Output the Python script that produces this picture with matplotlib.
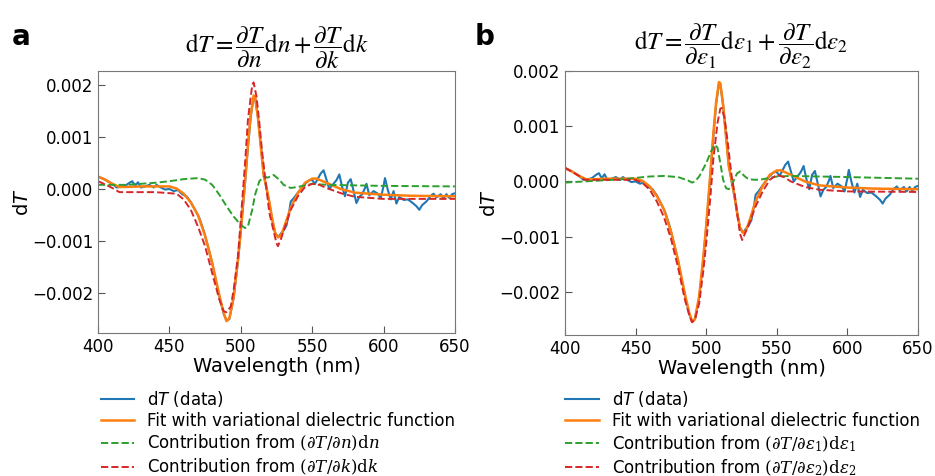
import matplotlib.pyplot as plt

# dados (comprimento de onda em nm, dT adimensional)
wl_data = [400, 405, 410, 413, 416, 419, 422, 424, 426, 428, 430, 433, 436, 439, 441, 444, 447, 450,
           453, 456, 459, 462, 465, 468, 471, 474, 477, 480, 483, 486, 488, 490, 492, 495, 498, 500,
           503, 505, 507, 509, 510, 512, 514, 516, 518, 520, 522, 524, 526, 527, 528, 530, 532, 534,
           535, 537, 540, 543, 545, 548, 550, 552, 554, 556, 558, 560, 562, 564, 567, 569, 571, 573,
           575, 577, 579, 581, 583, 585, 587, 588, 590, 593, 596, 598, 600, 601, 603, 605, 607, 609,
           611, 614, 617, 620, 623, 625, 627, 630, 633, 635, 637, 640, 642, 644, 646, 648, 650]
dT_data = [0.00024, 0.00018, 0.0001, 0.00003, 0.00004, 0.00006, 0.00012, 0.00015, 0.00006, 0.00013,
           0.00003, 0.00005, 0.00008, 0.00003, 0.00008, 0.00003, -0.00001, 0.0, -0.00004, -0.00002,
           -0.0001, -0.00014, -0.00025, -0.0004, -0.00056, -0.0008, -0.0011, -0.00143, -0.00182,
           -0.00218, -0.0024, -0.00253, -0.0025, -0.0021, -0.0014, -0.00082, 0.00012, 0.0008, 0.0014,
           0.00176, 0.00176, 0.00138, 0.00085, 0.0003, 0.0, -0.00027, -0.00058, -0.00084, -0.00092,
           -0.0009, -0.00086, -0.0008, -0.0007, -0.00042, -0.00024, -0.00018, -0.00007, 0.00003,
           0.0001, 0.00017, 0.00017, 0.0001, 0.0002, 0.0003, 0.00036, 0.00018, 0.0, 0.00007, 0.00017,
           0.00028, 0.00004, -0.00014, 0.00012, 0.00019, -0.00004, -0.00027, -0.00015, -0.0001,
           0.00002, 0.0001, -0.00012, -0.00004, -0.00009, -0.00018, 0.00006, 0.00021, -0.00002,
           -0.0002, -0.00004, -0.00028, -0.00015, -0.00021, -0.0002, -0.00026, -0.00033, -0.0004,
           -0.00031, -0.00024, -0.00013, -0.00009, -0.00016, -0.0001, -0.00018, -0.0001, -0.00017,
           -0.0001, -0.00008]

wl_fit = [400, 405, 410, 415, 420, 430, 440, 450, 455, 460, 465, 470, 475, 480, 485, 488, 490, 492,
          495, 498, 500, 503, 505, 507, 509, 510, 512, 514, 516, 518, 520, 522, 524, 526, 528, 530,
          535, 540, 545, 550, 553, 560, 570, 580, 600, 620, 650]
dT_fit = [0.00024, 0.00018, 0.0001, 0.00004, 0.00004, 0.00005, 0.00005, 0.00005, 0.00001, -0.00009,
          -0.00026, -0.0005, -0.0009, -0.00142, -0.00205, -0.00238, -0.00254, -0.00249, -0.00208,
          -0.00136, -0.0008, 0.00016, 0.00085, 0.00143, 0.0018, 0.00178, 0.00138, 0.00082, 0.00027,
          0.00003, -0.00025, -0.00058, -0.00084, -0.00093, -0.0009, -0.00076, -0.00036, -0.00008,
          0.00012, 0.0002, 0.0002, 0.00012, 0.0, -0.00007, -0.00011, -0.00013, -0.00014]

# painel a: contribuições de n e k
wl_n = [400, 420, 440, 450, 460, 470, 475, 480, 485, 490, 495, 500, 503, 505, 508, 510, 513, 516,
        519, 523, 527, 530, 535, 540, 550, 560, 600, 650]
contrib_n = [0.00008, 0.00008, 0.00012, 0.00015, 0.00019, 0.00021, 0.00018, 0.00008, -0.00011,
             -0.00033, -0.00053, -0.00069, -0.00075, -0.00072, -0.0004, -0.00011, 0.00015, 0.00024,
             0.00022, 0.00027, 0.00018, 0.00008, 0.00002, 0.00004, 0.0001, 0.00008, 0.00006, 0.00005]

wl_k = [400, 405, 410, 415, 420, 440, 455, 460, 465, 470, 475, 480, 485, 488, 490, 493, 495, 498,
        500, 503, 505, 508, 509, 511, 513, 515, 520, 525, 526, 528, 530, 535, 540, 545, 550, 555,
        560, 570, 580, 600, 650]
contrib_k = [0.00015, 0.00009, 0.00002, -0.00006, -0.00006, -0.00006, -0.00009, -0.0002, -0.0004,
             -0.00072, -0.0011, -0.00162, -0.00213, -0.00235, -0.00237, -0.00226, -0.00194, -0.0013,
             -0.00059, 0.0005, 0.00133, 0.002, 0.00205, 0.00178, 0.00127, 0.0007, -0.00046, -0.00104,
             -0.0011, -0.00097, -0.00081, -0.0004, -0.00014, 0.00004, 0.0001, 0.00008, 0.00002,
             -0.00008, -0.00015, -0.00019, -0.00019]

# painel b: contribuições de eps1 e eps2
wl_e1 = [400, 420, 440, 460, 470, 480, 487, 490, 492, 495, 500, 503, 506, 508, 510, 512, 514, 516,
         518, 520, 522, 524, 527, 530, 535, 540, 550, 560, 600, 650]
contrib_e1 = [-0.00002, 0.00001, 0.00004, 0.00009, 0.0001, 0.00008, 0.00002, -0.00002, 0.0, 0.00009,
              0.00033, 0.00052, 0.00067, 0.00061, 0.00033, 0.00003, -0.00012, -0.00014, -0.00008,
              0.00005, 0.00015, 0.00018, 0.0001, 0.00004, 0.00003, 0.00004, 0.00009, 0.0001,
              0.00008, 0.00005]

wl_e2 = [400, 410, 414, 420, 450, 455, 460, 465, 470, 475, 480, 485, 488, 490, 492, 495, 498, 500,
         503, 505, 508, 510, 511, 513, 515, 518, 520, 522, 524, 525.5, 527, 530, 535, 540, 545, 550,
         555, 560, 570, 580, 600, 650]
contrib_e2 = [0.00025, 0.0001, 0.00003, 0.00003, 0.00003, -0.00003, -0.00015, -0.00036, -0.00064,
              -0.00103, -0.00155, -0.00215, -0.00242, -0.00255, -0.0025, -0.00221, -0.00161, -0.00112,
              -0.00027, 0.00039, 0.00106, 0.00132, 0.00133, 0.00115, 0.00076, 0.0001, -0.0002,
              -0.0006, -0.00095, -0.00106, -0.00097, -0.00079, -0.00045, -0.00018, 0.00003, 0.00012,
              0.00008, 0.0, -0.0001, -0.00015, -0.00018, -0.00019]

plt.rcParams['mathtext.fontset'] = 'dejavuserif'

fig = plt.figure(figsize=(9.35, 4.76), dpi=100)
ax_a = fig.add_axes([0.1048, 0.3004, 0.3818, 0.5504])
ax_b = fig.add_axes([0.6043, 0.2962, 0.3775, 0.5546])

paineis = [
    (ax_a, wl_n, contrib_n, wl_k, contrib_k,
     r'$\mathrm{d}T=\dfrac{\partial T}{\partial n}\mathrm{d}n+\dfrac{\partial T}{\partial k}\mathrm{d}k$',
     r'Contribution from $(\partial T/\partial n)\mathrm{d}n$',
     r'Contribution from $(\partial T/\partial k)\mathrm{d}k$',
     (-0.00277, 0.00227), (-0.016, -0.18)),
    (ax_b, wl_e1, contrib_e1, wl_e2, contrib_e2,
     r'$\mathrm{d}T=\dfrac{\partial T}{\partial \varepsilon_1}\mathrm{d}\varepsilon_1+\dfrac{\partial T}{\partial \varepsilon_2}\mathrm{d}\varepsilon_2$',
     r'Contribution from $(\partial T/\partial \varepsilon_1)\mathrm{d}\varepsilon_1$',
     r'Contribution from $(\partial T/\partial \varepsilon_2)\mathrm{d}\varepsilon_2$',
     (-0.00278, 0.002), (-0.023, -0.1725)),
]

for ax, wl1, c1, wl2, c2, titulo, lab1, lab2, ylim, pos_leg in paineis:
    ax.plot(wl_data, dT_data, color='#1f77b4', lw=1.5, label=r'd$T$ (data)')
    ax.plot(wl_fit, dT_fit, color='#ff7f0e', lw=1.8, label='Fit with variational dielectric function')
    ax.plot(wl1, c1, color='#2ca02c', lw=1.4, ls='--', label=lab1)
    ax.plot(wl2, c2, color='#d62728', lw=1.4, ls='--', label=lab2)

    ax.set_xlim(400, 650)
    ax.set_ylim(*ylim)
    ax.set_xticks([400, 450, 500, 550, 600, 650])
    ax.set_yticks([-0.002, -0.001, 0.0, 0.001, 0.002])
    ax.set_yticklabels(['\u22120.002', '\u22120.001', '0.000', '0.001', '0.002'])
    ax.tick_params(direction='in', length=5, labelsize=12, color='#555555')
    for sp in ax.spines.values():
        sp.set_color('#777777')

    ax.set_xlabel('Wavelength (nm)', fontsize=14, labelpad=1)
    ax.set_ylabel(r'd$T$', fontsize=14, math_fontfamily='dejavusans', labelpad=0)
    ax.set_title(titulo, fontsize=18, pad=7.5, math_fontfamily='stix')

    leg = ax.legend(loc='upper left', bbox_to_anchor=pos_leg, frameon=False, fontsize=12,
                    borderpad=0, labelspacing=0.2, handlelength=2.0, handletextpad=0.8)
    leg.get_texts()[0].set_math_fontfamily('dejavusans')

fig.text(0.013, 0.905, 'a', fontsize=20, fontweight='bold', va='baseline')
fig.text(0.508, 0.905, 'b', fontsize=20, fontweight='bold', va='baseline')

fig.savefig('out.png', dpi=100)
